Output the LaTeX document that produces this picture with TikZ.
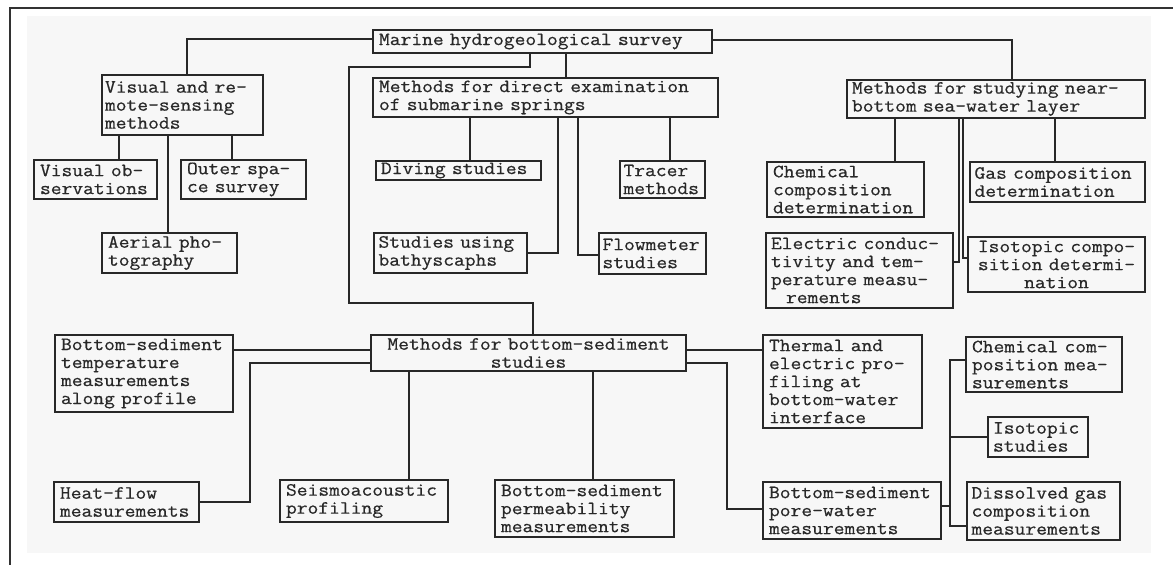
\documentclass[tikz,border=0pt]{standalone}
\usepackage{fontspec}
\setmonofont{Latin Modern Mono}[FakeBold=0.6,FakeStretch=1.12]
\setlength{\parindent}{0pt}
\definecolor{ink}{RGB}{40,40,40}
\definecolor{bggray}{RGB}{247,247,247}
\definecolor{framec}{RGB}{50,50,50}
\newcommand\hgbox[8][]{%
  \pgfmathsetmacro\hgw{#5-#3}%
  \pgfmathsetmacro\hgh{#6-#4}%
  \pgfmathsetmacro\hgtw{#5-#3-2*#7}%
  \pgfmathsetmacro\hgcx{(#3+#5)/2}%
  \pgfmathsetmacro\hgcy{(#4+#6)/2}%
  \node[box,inner xsep=#7pt,minimum width=\hgw pt,minimum height=\hgh pt,text width=\hgtw pt,#1] (#2) at (\hgcx,\hgcy) {#8};}
\begin{document}
\begin{tikzpicture}[x=1pt,y=-1pt,
  box/.style={draw=ink, line width=1.3pt, text=ink, font=\ttfamily\fontsize{18.7}{18}\selectfont, align=left, inner ysep=1pt, anchor=center},
  con/.style={draw=ink, line width=1.3pt},
  framel/.style={draw=framec, line width=2.6pt}]
\fill[white] (0,0) rectangle (1173,565);
\useasboundingbox (0,0) rectangle (1173,565);
\fill[bggray] (27,16) rectangle (1151,553);
\draw[framel] (10,565) -- (10,8) -- (1173,8);

% nodes
\hgbox{marine}{373}{30}{712}{53}{6}{Marine hydrogeological survey}
\hgbox{vis}{102}{75}{263}{135}{3}{Visual and re-\\mote-sensing\\methods}
\hgbox{visobs}{34}{160}{157}{199}{6}{Visual ob-\\servations}
\hgbox{outer}{181}{160}{306}{199}{6}{Outer spa-\\ce survey}
\hgbox{aerial}{102}{233}{237}{273}{6}{Aerial pho-\\tography}
\hgbox{direct}{373}{78}{718}{117}{6}{Methods for direct examination\\of submarine springs}
\hgbox{diving}{376}{161}{541}{180}{5}{Diving studies}
\hgbox{tracer}{620}{161}{705}{198}{3.5}{Tracer\\methods}
\hgbox{bathy}{374}{233}{527}{273}{4.5}{Studies using\\bathyscaphs}
\hgbox{flow}{599}{233}{706}{274}{3.5}{Flowmeter\\studies}
\hgbox{near}{847}{80}{1145}{118}{5}{Methods for studying near-\\bottom sea-water layer}
\hgbox{chemdet}{767}{162}{924}{217}{6}{Chemical\\composition\\determination}
\hgbox{gasdet}{970}{162}{1145}{202}{4.5}{Gas composition\\determination}
\hgbox{elec}{766}{233}{953}{308}{5}{Electric conduc-\\tivity and tem-\\perature measu-\\\hspace*{15pt}rements}
\hgbox[align=center]{isodet}{968}{237}{1145}{292}{5}{Isotopic compo-\\sition determi-\\nation}
\hgbox[align=center]{bottom}{371}{335}{686}{371}{6}{Methods for bottom-sediment\\studies}
\hgbox{temp}{55}{335}{233}{412}{6}{Bottom-sediment\\temperature\\measurements\\along profile}
\hgbox{heat}{54}{482}{199}{522}{6}{Heat-flow\\measurements}
\hgbox{seis}{280}{480}{448}{522}{6}{Seismoacoustic\\profiling}
\hgbox{perm}{495}{480}{674}{537}{6}{Bottom-sediment\\permeability\\measurements}
\hgbox{thermal}{763}{335}{922}{428}{6}{Thermal and\\electric pro-\\filing at\\bottom-water\\interface}
\hgbox{pore}{763}{482}{941}{539}{6}{Bottom-sediment\\pore-water\\measurements}
\hgbox{chemmeas}{966}{337}{1122}{392}{6}{Chemical com-\\position mea-\\surements}
\hgbox{isost}{988}{417}{1088}{457}{5}{Isotopic\\studies}
\hgbox{dissolved}{967}{482}{1120}{540}{4.5}{Dissolved gas\\composition\\measurements}

\coordinate (busP) at (950,506);
\coordinate (busI) at (950,437);

% connectors
\draw[con] (marine.west |- 0,39) -| (vis.north -| 187,0);
\draw[con] (marine.east |- 0,40) -| (near.north -| 1012,0);
\draw[con] (marine.south -| 566,0) -- (direct.north -| 566,0);
\draw[con] (marine.south -| 530,0) -- (530,67) -- (349,67) -- (349,303) -- (533,303) -- (bottom.north -| 533,0);

\draw[con] (vis.south -| 119,0) -- (visobs.north -| 119,0);
\draw[con] (vis.south -| 232,0) -- (outer.north -| 232,0);
\draw[con] (vis.south -| 168,0) -- (aerial.north -| 168,0);

\draw[con] (direct.south -| 470,0) -- (diving.north -| 470,0);
\draw[con] (direct.south -| 670,0) -- (tracer.north -| 670,0);
\draw[con] (direct.south -| 558,0) |- (bathy.east);
\draw[con] (direct.south -| 578,0) |- (flow.west |- 0,255);

\draw[con] (near.south -| 895,0) -- (chemdet.north -| 895,0);
\draw[con] (near.south -| 1055,0) -- (gasdet.north -| 1055,0);
\draw[con] (near.south -| 959,0) |- (elec.east |- 0,262);
\draw[con] (near.south -| 963,0) |- (isodet.west |- 0,258);

\draw[con] (bottom.west |- 0,350) -- (temp.east |- 0,350);
\draw[con] (bottom.west |- 0,363) -- (250,363) |- (heat.east);
\draw[con] (bottom.south -| 409,0) -- (seis.north -| 409,0);
\draw[con] (bottom.south -| 593,0) -- (perm.north -| 593,0);
\draw[con] (bottom.east |- 0,350) -- (thermal.west |- 0,350);
\draw[con] (bottom.east |- 0,363) -- (727,363) |- (pore.west |- 0,509);

\draw[con] (chemmeas.west |- 0,360) -- (950,360) |- (dissolved.west |- 0,526);
\draw[con] (pore.east |- 0,506) -- (busP);
\draw[con] (busI) -- (isost.west |- 0,437);
\end{tikzpicture}
\end{document}
